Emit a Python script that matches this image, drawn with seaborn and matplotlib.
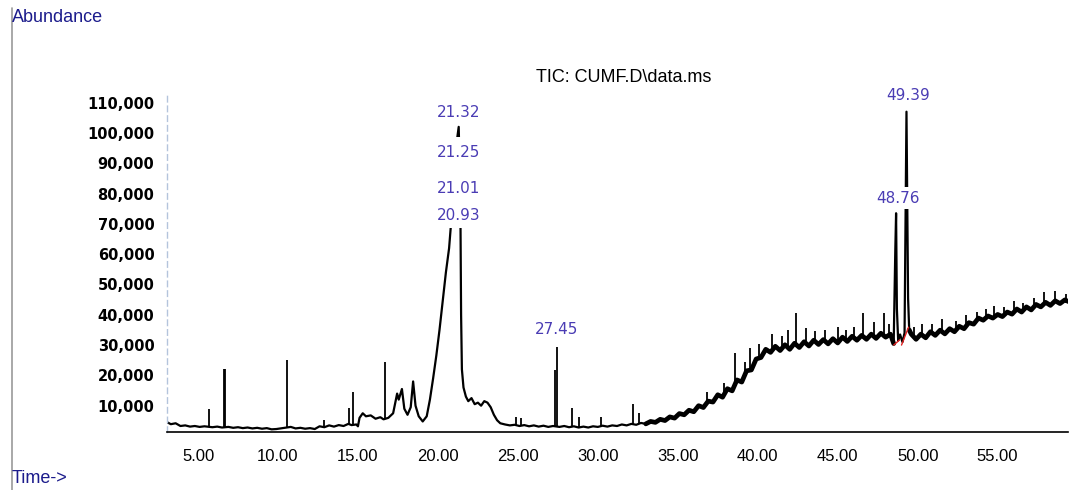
import numpy as np
import pandas as pd
import matplotlib
matplotlib.use("Agg")
import matplotlib.pyplot as plt
from matplotlib.lines import Line2D
from matplotlib.ticker import MultipleLocator, FixedLocator, FuncFormatter
import seaborn as sns

# %% data (time in min, abundance in counts)
trace_points = [
    (3.05, 4600), (3.3, 3900), (3.6, 4200), (3.9, 3300), (4.2, 3500), (4.5, 3100),
    (4.8, 3300), (5.1, 3000), (5.4, 3200), (5.9, 2900), (6.2, 3100), (6.5, 2800),
    (6.9, 3000), (7.2, 2700), (7.5, 2900), (7.8, 2600), (8.1, 2800), (8.4, 2500),
    (8.7, 2700), (9.0, 2400), (9.3, 2600), (9.6, 2200), (9.9, 2300), (10.3, 2600),
    (10.8, 3000), (11.1, 2500), (11.4, 2700), (11.7, 2400), (12.0, 2600), (12.3, 2300),
    (12.6, 3200), (12.9, 2900), (13.2, 3500), (13.5, 3100), (13.8, 3600), (14.1, 3300),
    (14.4, 4000), (14.6, 3600), (14.9, 3800), (15.0, 3200), (15.1, 6000), (15.3, 7500),
    (15.5, 6500), (15.8, 6800), (16.1, 5700), (16.4, 6200), (16.6, 5500), (16.9, 6000),
    (17.2, 7500), (17.45, 14000), (17.55, 12000), (17.75, 15500), (17.9, 9000),
    (18.1, 7000), (18.3, 9500), (18.45, 18000), (18.6, 10000), (18.8, 6500),
    (19.05, 4800), (19.3, 6500), (19.5, 12000), (19.7, 19000), (19.9, 26500),
    (20.1, 35000), (20.3, 44500), (20.5, 54000), (20.7, 62000), (20.85, 72000),
    (21.0, 86000), (21.15, 96000), (21.3, 102000), (21.4, 80000), (21.45, 40000),
    (21.5, 22000), (21.6, 16000), (21.75, 13000), (21.9, 11500), (22.1, 12500),
    (22.3, 10500), (22.5, 11000), (22.7, 10000), (22.9, 11500), (23.1, 11000),
    (23.3, 9500), (23.5, 7000), (23.7, 5200), (23.9, 4200), (24.2, 3800), (24.5, 3500),
    (24.8, 3700), (25.1, 3300), (25.4, 3600), (25.7, 3200), (26.0, 3500), (26.3, 3100),
    (26.6, 3400), (26.9, 3000), (27.2, 3300), (27.6, 3000), (27.9, 3300), (28.2, 2900),
    (28.5, 3200), (28.8, 2800), (29.1, 3100), (29.4, 2800), (29.7, 3200), (30.0, 3000),
    (30.3, 3400), (30.6, 3100), (30.9, 3500), (31.2, 3300), (31.5, 3800), (31.8, 3500),
    (32.1, 4000), (32.4, 3700), (32.7, 4300), (33.0, 4000), (33.3, 4800), (33.6, 4500),
    (33.9, 5500), (34.2, 5100), (34.5, 6300), (34.8, 5900), (35.1, 7400), (35.4, 7000),
    (35.7, 8500), (36.0, 8000), (36.3, 10000), (36.6, 9400), (36.9, 11500), (37.2, 11200),
    (37.5, 13600), (37.8, 12800), (38.1, 15600), (38.4, 14900), (38.7, 18500), (39.0, 17800),
    (39.3, 21500), (39.6, 21800), (39.9, 25400), (40.2, 25900), (40.5, 28600), (40.8, 27600),
    (41.1, 29600), (41.4, 28200), (41.7, 30100), (42.0, 28600), (42.3, 30600), (42.6, 29200),
    (42.9, 31100), (43.2, 29700), (43.5, 31600), (43.8, 30200), (44.1, 31800), (44.4, 30400),
    (44.7, 32100), (45.0, 30700), (45.3, 32600), (45.6, 31200), (45.9, 32900), (46.2, 31600),
    (46.5, 33200), (46.8, 31900), (47.1, 33600), (47.4, 32200), (47.7, 33900), (48.0, 32600),
    (48.3, 33600), (48.5, 30500), (48.6, 61000), (48.65, 73500), (48.7, 42000), (48.78, 31500),
    (48.9, 33500), (49.05, 31000), (49.18, 34000), (49.3, 107000), (49.4, 45500), (49.47, 35000),
    (49.6, 33600), (49.9, 31900), (50.2, 33600), (50.5, 32400), (50.8, 34400), (51.1, 33200),
    (51.4, 34900), (51.7, 33700), (52.0, 35400), (52.3, 34400), (52.6, 36200), (52.9, 35400),
    (53.2, 37400), (53.5, 36900), (53.8, 38900), (54.1, 38200), (54.4, 39600), (54.7, 38900),
    (55.0, 40100), (55.3, 39400), (55.6, 40900), (55.9, 40200), (56.2, 41900), (56.5, 40900),
    (56.8, 42600), (57.1, 41600), (57.4, 43400), (57.7, 42600), (58.0, 44100), (58.3, 43100),
    (58.6, 44600), (58.9, 43700), (59.2, 44900), (59.5, 44200),
]

# narrow single-scan spikes: time, foot, top
spike_time = [5.69, 6.62, 6.68, 10.55, 12.9, 14.44, 14.7, 16.7, 24.9, 25.2, 27.35, 27.42,
              28.4, 28.8, 30.2, 32.2, 32.6, 36.8, 37.9, 38.6, 39.2, 39.5, 40.1, 40.9, 41.5,
              41.9, 42.4, 43.0, 43.6, 44.2, 45.0, 45.5, 46.0, 46.6, 47.3, 47.9, 48.2, 49.8,
              50.3, 50.9, 51.5, 52.4, 53.0, 53.7, 54.3, 54.8, 55.4, 56.0, 56.6, 57.3, 57.9,
              58.6, 59.3]
spike_foot = [3100, 2900, 2900, 2700, 2800, 3600, 3700, 5700, 3600, 3400, 3100, 3100,
              3100, 2900, 3200, 3800, 4000, 10800, 13200, 16500, 19500, 22500, 25000, 28000, 28800,
              29500, 30000, 30500, 30800, 31000, 31000, 31500, 32000, 32500, 32500, 33000, 33000, 32500,
              33000, 33500, 34500, 35000, 36000, 37500, 38500, 39000, 39500, 40500, 41000, 42000, 43000,
              44000, 44000]
spike_top = [8900, 22100, 22100, 25000, 5300, 9200, 14500, 24400, 6300, 5900, 21800, 29400,
             9200, 6300, 6300, 10600, 7600, 14500, 17500, 27400, 24500, 29000, 30500, 33500, 33000,
             35000, 40600, 35500, 34500, 35000, 36000, 35000, 35800, 40600, 37500, 40600, 37000, 36000,
             37000, 37000, 38500, 38000, 40000, 41000, 42000, 43000, 42500, 44500, 44000, 45500, 47500,
             48000, 47000]

# integration baselines (red)
integ_t0 = [48.50, 48.99]
integ_v0 = [30000, 30000]
integ_t1 = [48.87, 49.43]
integ_v1 = [31700, 35900]

# peak labels
label_text = ["27.45", "48.76", "49.39", "21.32", "21.25", "21.01", "20.93"]
label_time = [27.44, 48.80, 49.40, 21.30, 21.30, 21.30, 21.30]
label_abund = [35000, 78500, 112500, 106600, 93400, 81800, 72900]
label_pad = [2.5, 2.5, 2.5, 2.5, 6.0, 8.0, 4.0]

y_ticks = [10000, 20000, 30000, 40000, 50000, 60000, 70000, 80000, 90000, 100000, 110000]

# %% plot
sns.set_theme(style="white")
plt.rcParams['font.family'] = ['DejaVu Sans']

df = pd.DataFrame(trace_points, columns=["time", "abundance"])

fig = plt.figure(figsize=(10.71, 4.90), dpi=100)
ax = fig.add_axes([167 / 1071, 58 / 490, 901 / 1071, 340 / 490])

sns.lineplot(data=df, x="time", y="abundance", estimator=None, sort=False,
             color="black", linewidth=1.6, ax=ax, zorder=2)
# the late, noisy baseline prints as a thick band (peaks stay thin)
noisy_parts = [df[(df["time"] >= 33) & (df["time"] <= 48.5)], df[df["time"] >= 49.47]]
for part in noisy_parts:
    sns.lineplot(data=part, x="time", y="abundance", estimator=None, sort=False,
                 color="black", linewidth=3.4, ax=ax, zorder=2)
ax.vlines(spike_time, spike_foot, spike_top, color="black", linewidth=1.3, zorder=2)
for t0, v0, t1, v1 in zip(integ_t0, integ_v0, integ_t1, integ_v1):
    ax.plot([t0, t1], [v0, v1], color="#e02020", linewidth=1.0, zorder=3)

for txt, t, v, pd_ in zip(label_text, label_time, label_abund, label_pad):
    ax.text(t, v, txt, ha="center", va="center", fontsize=11, color="#4a3cb4",
            zorder=5, bbox=dict(facecolor="white", edgecolor="none", pad=pd_))

ax.set_xlim(3.06, 59.4)
ax.set_ylim(1320, 113500)
ax.set_xlabel("")
ax.set_ylabel("")

ax.xaxis.set_major_locator(MultipleLocator(5))
ax.xaxis.set_minor_locator(MultipleLocator(1))
ax.xaxis.set_major_formatter(FuncFormatter(lambda x, p: f"{x:.2f}"))
ax.yaxis.set_major_locator(FixedLocator(y_ticks))
ax.yaxis.set_major_formatter(FuncFormatter(lambda y, p: f"{int(y):,}"))

ax.tick_params(axis="x", which="major", direction="out", length=8, width=1.2,
               color="black", pad=4, labelsize=12, labelcolor="black")
ax.tick_params(axis="x", which="minor", direction="out", length=4, width=1.0, color="black")
ax.tick_params(axis="y", which="major", direction="out", length=2, width=1.5,
               color="#333333", pad=7, labelsize=10.5, labelcolor="black")
for lab in ax.get_xticklabels():
    lab.set_family("Liberation Sans")
for lab in ax.get_yticklabels():
    lab.set_fontweight("bold")

ax.spines["top"].set_visible(False)
ax.spines["right"].set_visible(False)
ax.spines["bottom"].set_color("black")
ax.spines["bottom"].set_linewidth(1.2)
ax.spines["left"].set_color("#b4c4dc")
ax.spines["left"].set_linestyle((0, (4, 3)))
ax.spines["left"].set_linewidth(1.0)

# instrument header texts
fig.text(624 / 1071, 1 - 78 / 490, "TIC: CUMF.D\\data.ms", ha="center", va="center",
         fontsize=13, family="Liberation Sans", color="black")
fig.text(12 / 1071, 1 - 18 / 490, "Abundance", ha="left", va="center",
         fontsize=13, family="Liberation Sans", color="#1c1c8c")
fig.text(12 / 1071, 1 - 478 / 490, "Time->", ha="left", va="center",
         fontsize=13, family="Liberation Sans", color="#1c1c8c")
fig.add_artist(Line2D([12 / 1071, 12 / 1071], [0, 1 - 8 / 490],
                      transform=fig.transFigure, color="#9a9a9a", linewidth=1.2))

plt.savefig("out.png", dpi=100)
plt.close()
